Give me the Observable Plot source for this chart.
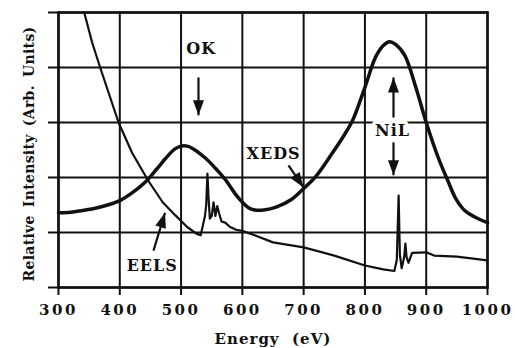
<!DOCTYPE html>
<html>
<head>
<meta charset="utf-8">
<script src="https://cdn.jsdelivr.net/npm/d3@7"></script>
<script src="https://cdn.jsdelivr.net/npm/@observablehq/plot@0.6"></script>
<style>
  html, body { margin: 0; padding: 0; background: #fff; }
  svg { display: block; }
  g[aria-label="x-axis tick label"] text { letter-spacing: 2.5px; }
  g[aria-label="text"] text { letter-spacing: 1px; }
</style>
</head>
<body>
<div id="chart"></div>
<script>
// X tick values (eV) and Y gridline values (arbitrary units)
const xTicks = [300, 400, 500, 600, 700, 800, 900, 1000];
const yTicks = [0, 1, 2, 3, 4, 5];

// XEDS spectrum
const xedsEnergy = [300, 320, 340, 360, 380, 400, 420, 440, 460, 475, 490, 500, 510, 520, 540, 560, 573, 590, 600, 610, 620, 635, 655, 680, 700, 720, 746, 765, 780, 800, 817, 830, 840, 850, 865, 883, 900, 920, 935, 948, 960, 970, 985, 1000];
const xedsValue  = [1.36, 1.37, 1.40, 1.44, 1.50, 1.58, 1.72, 1.90, 2.15, 2.35, 2.52, 2.57, 2.57, 2.52, 2.35, 2.12, 1.95, 1.68, 1.55, 1.45, 1.41, 1.41, 1.46, 1.60, 1.80, 2.02, 2.43, 2.75, 3.04, 3.64, 4.18, 4.40, 4.47, 4.42, 4.22, 3.64, 3.00, 2.35, 1.95, 1.62, 1.43, 1.34, 1.25, 1.18];

// EELS spectrum
const eelsEnergy = [342, 355, 368, 383, 398, 420, 446, 470, 490, 510, 525, 532, 536, 539, 541, 543, 545, 547, 550, 553, 556, 559, 562, 566, 572, 580, 590, 600, 620, 650, 700, 750, 800, 830, 848, 852, 855, 857, 860, 864, 866, 868, 871, 877, 900, 913, 950, 980, 1000];
const eelsValue  = [5.0, 4.45, 4.0, 3.5, 3.0, 2.45, 1.95, 1.55, 1.32, 1.1, 0.98, 0.95, 1.15, 1.3, 1.5, 2.07, 1.6, 1.25, 1.3, 1.55, 1.3, 1.48, 1.35, 1.2, 1.18, 1.1, 1.05, 1.03, 0.95, 0.82, 0.73, 0.58, 0.40, 0.33, 0.30, 0.5, 1.67, 0.6, 0.35, 0.55, 0.8, 0.55, 0.45, 0.63, 0.64, 0.58, 0.56, 0.52, 0.49];

// Annotation labels
const labelText = ["OK", "XEDS", "EELS"];
const labelX    = [533, 651, 453];
const labelY    = [4.33, 2.43, 0.40];
const nilText = ["NiL"];
const nilX    = [845];
const nilY    = [2.85];

// Annotation arrows (tail -> tip), head rotation in degrees
const arrowX1 = [528.4, 846.6, 846.6, 675.3, 455.0];
const arrowY1 = [3.82, 3.09, 2.64, 2.22, 0.67];
const arrowX2 = [528.4, 846.6, 846.6, 699.7, 473.8];
const arrowY2 = [3.13, 3.82, 2.04, 1.82, 1.36];
const arrowRot = [180, 0, 180, 146, 17];

const yTitle = "Relative Intensity (Arb. Units)";
const xTitle = "Energy  (eV)";

const xeds = xedsEnergy.map((e, i) => ({e, v: xedsValue[i]}));
const eels = eelsEnergy.map((e, i) => ({e, v: eelsValue[i]}));
const labels = labelText.map((t, i) => ({t, x: labelX[i], y: labelY[i]}));
const nil = nilText.map((t, i) => ({t, x: nilX[i], y: nilY[i]}));
const arrows = arrowX1.map((x1, i) => ({x1, y1: arrowY1[i], x2: arrowX2[i], y2: arrowY2[i], r: arrowRot[i]}));

// gridlines as paths, built from the tick arrays
const xMin = xTicks[0], xMax = xTicks[xTicks.length - 1];
const yMin = yTicks[0], yMax = yTicks[yTicks.length - 1];
const grid = [
  ...xTicks.flatMap(x => [{x, y: yMin, k: "v" + x}, {x, y: yMax, k: "v" + x}]),
  ...yTicks.flatMap(y => [{x: xMin, y, k: "h" + y}, {x: xMax, y, k: "h" + y}])
];

// filled arrowhead symbol with its tip at the origin, pointing up
const arrowHead = {
  draw(context) {
    context.moveTo(0, 0);
    context.lineTo(-5.5, 15);
    context.lineTo(5.5, 15);
    context.closePath();
  }
};

const chart = Plot.plot({
  width: 515,
  height: 348,
  marginLeft: 58,
  marginRight: 28,
  marginTop: 12,
  marginBottom: 61,
  style: {fontFamily: "DejaVu Serif", fontWeight: "bold", color: "#111", background: "#fff"},
  x: {domain: [xMin, xMax]},
  y: {domain: [yMin, yMax]},
  marks: [
    Plot.line(grid, {x: "x", y: "y", z: "k", stroke: "#111", strokeWidth: 2}),
    Plot.axisX(xTicks, {tickSize: 8, tickPadding: 9, strokeWidth: 2, fontSize: 15, tickFormat: d => String(d), label: null}),
    Plot.axisY(yTicks, {tickSize: 10, strokeWidth: 2, tickFormat: () => "", label: null}),
    Plot.frame({stroke: "#111", strokeWidth: 2.5}),
    Plot.line(eels, {x: "e", y: "v", stroke: "#111", strokeWidth: 2.2, clip: true}),
    Plot.line(xeds, {x: "e", y: "v", stroke: "#111", strokeWidth: 3.5, curve: "catmull-rom"}),
    Plot.link(arrows, {x1: "x1", y1: "y1", x2: "x2", y2: "y2", stroke: "#111", strokeWidth: 2.2}),
    Plot.dot(arrows, {x: "x2", y: "y2", rotate: "r", symbol: arrowHead, fill: "#111", stroke: "none"}),
    Plot.text(labels, {x: "x", y: "y", text: "t", fontSize: 16, fill: "#111"}),
    Plot.text(nil, {x: "x", y: "y", text: "t", fontSize: 16, fill: "#111", stroke: "white", strokeWidth: 7}),
    Plot.text([yTitle], {frameAnchor: "left", textAnchor: "middle", lineAnchor: "middle", dx: -29, dy: 4, rotate: -90, fontSize: 14, fill: "#111"}),
    Plot.text([xTitle], {frameAnchor: "bottom", textAnchor: "middle", lineAnchor: "middle", dy: 52, fontSize: 15, fill: "#111"})
  ]
});
document.getElementById("chart").appendChild(chart);
d3.select(chart).selectAll("text")
  .filter(function () { return this.textContent === yTitle; })
  .style("letter-spacing", "0.3px")
  .style("word-spacing", "3px");
// force a layout pass before the picture is taken
document.elementFromPoint(300, 100);
chart.getBoundingClientRect();
</script>
</body>
</html>
